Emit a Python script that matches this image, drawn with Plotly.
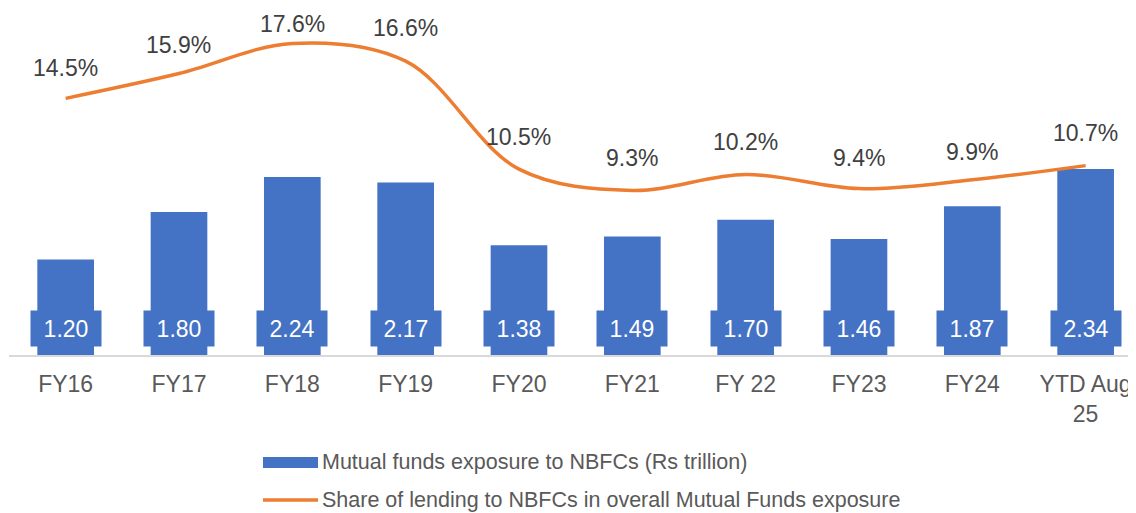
import plotly.graph_objects as go

categories = ["FY16", "FY17", "FY18", "FY19", "FY20", "FY21", "FY 22", "FY23", "FY24", "YTD Aug<br>25"]
exposure = [1.20, 1.80, 2.24, 2.17, 1.38, 1.49, 1.70, 1.46, 1.87, 2.34]
share_pct = [14.5, 15.9, 17.6, 16.6, 10.5, 9.3, 10.2, 9.4, 9.9, 10.7]
bar_name = "Mutual funds exposure to NBFCs (Rs trillion)"
line_name = "Share of lending to NBFCs in overall Mutual Funds exposure"

BLUE = "#4472C4"
ORANGE = "#ED7D31"
FONT = "Liberation Sans, Arial, sans-serif"

OFF = 8  # page body margin
W, H = 1136 - OFF, 513 - OFF
L, T = 9 - OFF, 10 - OFF
PLOT_BOTTOM = 355 - OFF
pw = W - L
ph = PLOT_BOTTOM - T

fig = go.Figure()
xs = list(range(len(categories)))
fig.add_trace(go.Bar(x=xs, y=exposure, name=bar_name, marker=dict(color=BLUE, line=dict(width=0)),
                     width=0.5, showlegend=False, hoverinfo="skip"))
fig.add_trace(go.Scatter(x=xs, y=share_pct, name=line_name, yaxis="y2", mode="lines",
                         line=dict(color=ORANGE, width=3.5, shape="spline", smoothing=1.0),
                         showlegend=False, hoverinfo="skip"))

annotations = []
for i, v in enumerate(exposure):
    annotations.append(dict(x=i, y=0, xref="x", yref="y", text=f"{v:.2f}", showarrow=False,
                            yanchor="bottom", yshift=8, bgcolor=BLUE, width=70, height=35,
                            borderpad=0, font=dict(family=FONT, size=23, color="white")))
pct_shift = [30, 29, 19, 33, 32, 32, 32, 31, 28, 33]
for i, v in enumerate(share_pct):
    annotations.append(dict(x=i, y=v, xref="x", yref="y2", text=f"{v:.1f}%", showarrow=False,
                            yanchor="middle", yshift=pct_shift[i],
                            font=dict(family=FONT, size=23, color="#404040")))

def py(p):
    return (PLOT_BOTTOM - (p - OFF)) / ph

def px(p):
    return ((p - OFF) - L) / pw

shapes = [
    dict(type="rect", xref="paper", yref="paper", x0=px(263), x1=px(318), y0=py(468), y1=py(457),
         fillcolor=BLUE, line=dict(width=0)),
    dict(type="line", xref="paper", yref="paper", x0=px(263), x1=px(318), y0=py(500), y1=py(500),
         line=dict(color=ORANGE, width=3.5)),
]
annotations.append(dict(x=px(320), y=py(462), xref="paper", yref="paper", text=bar_name, showarrow=False,
                        xanchor="left", yanchor="middle", font=dict(family=FONT, size=21.5, color="#595959")))
annotations.append(dict(x=px(320), y=py(500), xref="paper", yref="paper", text=line_name, showarrow=False,
                        xanchor="left", yanchor="middle", font=dict(family=FONT, size=21.5, color="#595959")))

step = 113.33
x_right = 9.5 - (9 + 10 * step - 1136) / step

fig.update_layout(
    width=W, height=H,
    margin=dict(l=L, r=0, t=T, b=H - PLOT_BOTTOM),
    plot_bgcolor="white", paper_bgcolor="white",
    showlegend=False,
    xaxis=dict(range=[-0.5, x_right], tickmode="array", tickvals=xs, ticktext=categories,
               showgrid=False, zeroline=False, showline=True, linecolor="#D9D9D9", linewidth=2,
               ticks="", ticklabelstandoff=7,
               tickfont=dict(family=FONT, size=23, color="#595959")),
    yaxis=dict(range=[0, ph / 79.5], visible=False, showgrid=False, zeroline=False),
    yaxis2=dict(range=[0, ph / 17.7], overlaying="y", visible=False, showgrid=False, zeroline=False),
    annotations=annotations,
    shapes=shapes,
    bargap=0.5,
)

fig.write_html("out.html")
